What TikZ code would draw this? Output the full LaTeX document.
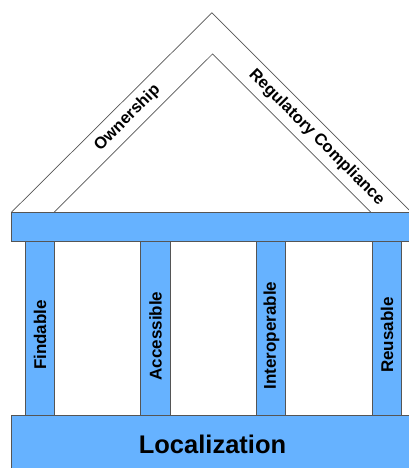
\documentclass[tikz,border=0pt]{standalone}
\usepackage{fontspec}
\setmainfont{Liberation Sans}
\definecolor{pillarblue}{RGB}{102,178,255}
\definecolor{edgegray}{RGB}{85,85,85}
\begin{document}
\begin{tikzpicture}[x=1pt,y=-1pt,
  block/.style={fill=pillarblue,draw=edgegray,line width=0.9pt},
  roofline/.style={draw=edgegray,line width=0.7pt},
  pillartext/.style={font=\bfseries\fontsize{17}{19}\selectfont,rotate=90,inner sep=0pt},
  rooftext/.style={font=\bfseries\fontsize{16.5}{18}\selectfont,inner sep=0pt},
  basetext/.style={font=\bfseries\fontsize{25.5}{28}\selectfont,inner sep=0pt}]
\useasboundingbox (0,0) rectangle (409,468);
\clip (0,0) rectangle (409,468);
% base
\draw[block] (11.7,415) rectangle (420,480);
% columns
\draw[block] (25,241.7) rectangle (54.3,415);
\draw[block] (140.7,241.7) rectangle (170,415);
\draw[block] (256.7,241.7) rectangle (285.7,415);
\draw[block] (372.3,241.7) rectangle (401,415);
% beam
\draw[block] (11.7,212) rectangle (420,241.7);
% roof
\coordinate (oL) at (11.7,212);
\coordinate (oA) at (211.85,12.85);
\coordinate (oR) at (411,212);
\coordinate (iL) at (54.3,212);
\coordinate (iA) at (212.6,53.9);
\coordinate (iR) at (370.7,212);
\draw[roofline] (oL) -- (oA) -- (oR);
\draw[roofline] (iL) -- (iA) -- (iR);
% texts
\node[rooftext,rotate=45] (own) at (127.5,118) {Ownership};
\node[rooftext,rotate=-45] (reg) at (316.5,137.5) {Regulatory Compliance};
\node[pillartext] (find) at (40,335) {Findable};
\node[pillartext] (acc) at (155.5,336) {Accessible};
\node[pillartext] (inter) at (271.5,335.5) {Interoperable};
\node[pillartext] (reus) at (387,335) {Reusable};
\node[basetext,anchor=base] (loc) at (212.5,453.3) {Localization};
\end{tikzpicture}
\end{document}
